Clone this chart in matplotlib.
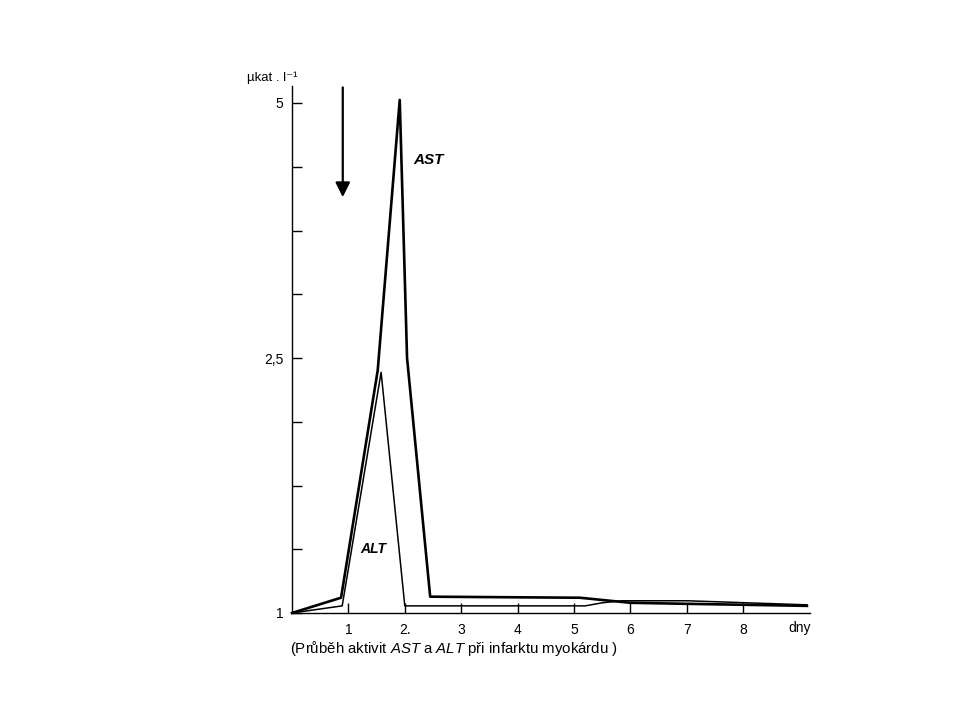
import matplotlib
matplotlib.use("Agg")
import matplotlib.pyplot as plt

plt.rcParams["font.family"] = ["Liberation Sans", "DejaVu Sans"]
plt.rcParams["mathtext.fontset"] = "custom"
plt.rcParams["mathtext.it"] = "Liberation Sans:italic"
plt.rcParams["mathtext.rm"] = "Liberation Sans"

# dny / ukat.l-1
ast_x = [0, 0.87, 1.52, 1.91, 2.04, 2.45, 5.0, 5.1, 6.0, 7.0, 9.13]
ast_y = [0, 0.15, 2.38, 5.03, 2.50, 0.16, 0.15, 0.15, 0.10, 0.09, 0.07]
alt_x = [0, 0.89, 1.58, 2.0, 5.2, 5.5, 5.85, 7.0, 9.13]
alt_y = [0, 0.07, 2.36, 0.07, 0.07, 0.10, 0.12, 0.12, 0.08]

yticks = [0, 0.625, 1.25, 1.875, 2.5, 3.125, 3.75, 4.375, 5.0]
ylabels = ["1", "", "", "", "2,5", "", "", "", "5"]
xticks = [1, 2, 3, 4, 5, 6, 7, 8]
xlabels = ["1", "2.", "3", "4", "5", "6", "7", "8"]

fig = plt.figure(figsize=(9.6, 7.2), dpi=100)
# osa: x=0 na 292 px, y=0 na 613 px
ax = fig.add_axes([292 / 960, 107 / 720, 518 / 960, 527 / 720])
ax.set_xlim(0, 518 / 56.4)
ax.set_ylim(0, 527 / 102)

ax.plot(ast_x, ast_y, color="black", lw=1.9, clip_on=False)
ax.plot(alt_x, alt_y, color="black", lw=1.1, clip_on=False)

for s in ("top", "right"):
    ax.spines[s].set_visible(False)
ax.spines["left"].set_linewidth(1.0)
ax.spines["bottom"].set_linewidth(1.0)

ax.set_yticks(yticks)
ax.set_yticklabels(ylabels, fontsize=10)
ax.set_xticks(xticks)
ax.set_xticklabels(xlabels, fontsize=10)
ax.tick_params(axis="y", direction="in", length=7, width=1.0, pad=6)
ax.tick_params(axis="x", direction="in", length=7, width=1.0, pad=7)

ax.text(9.0, -0.15, "dny", fontsize=10, ha="center", va="center",
        clip_on=False)
ax.text(-0.8, 5.25, "\u00b5kat . l\u207b\u00b9", fontsize=9.5, ha="left", va="center",
        clip_on=False)

ax.annotate("", xy=(0.90, 4.05), xytext=(0.90, 5.18),
            arrowprops=dict(arrowstyle="-|>", color="black", lw=1.6,
                            mutation_scale=22), annotation_clip=False)

ax.text(2.43, 4.44, "AST", fontsize=11, fontweight="bold", fontstyle="italic",
        ha="center", va="center")
ax.text(1.45, 0.63, "ALT", fontsize=10, fontweight="bold", fontstyle="italic",
        ha="center", va="center")

fig.text(290 / 960, 1 - 648 / 720,
         r"(Průběh aktivit $\it{AST}$ a $\it{ALT}$ při infarktu myokárdu )",
         fontsize=10.8, ha="left", va="center")

fig.savefig("out.png", dpi=100)
